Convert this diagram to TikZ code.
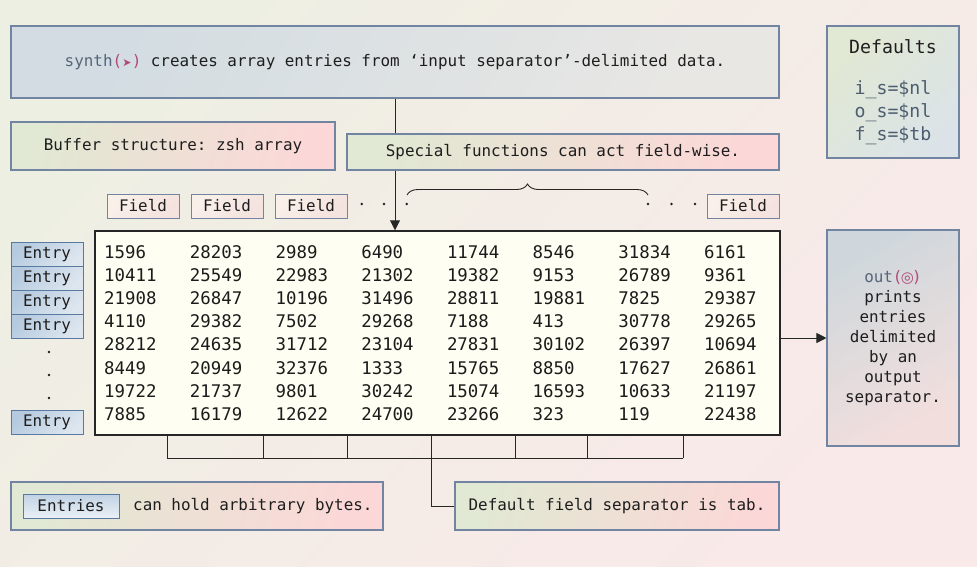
\documentclass[tikz,border=0pt]{standalone}
\usepackage{fontspec}
\setmonofont{DejaVu Sans Mono}
\newfontfamily\symfont{DejaVu Sans}
\usetikzlibrary{decorations.pathreplacing,arrows.meta}

\definecolor{bgA}{HTML}{EEEFE3}
\definecolor{bgB}{HTML}{F9E9E9}
\definecolor{ink}{HTML}{1E1E1E}
\definecolor{boxline}{HTML}{7185A3}
\definecolor{greenish}{HTML}{E1E8D3}
\definecolor{pinkish}{HTML}{FBD8D7}
\definecolor{steelA}{HTML}{D2DCE2}
\definecolor{steelB}{HTML}{E8E7E4}
\definecolor{entryA}{HTML}{B5CADF}
\definecolor{entryB}{HTML}{DDE6EF}
\definecolor{entryline}{HTML}{587AA2}
\definecolor{fieldA}{HTML}{FAF0EA}
\definecolor{fieldB}{HTML}{F4E2DE}
\definecolor{sheet}{HTML}{FEFEF2}
\definecolor{wire}{HTML}{262626}
\definecolor{fnname}{HTML}{56657A}
\definecolor{fnsym}{HTML}{B04A78}
\definecolor{defval}{HTML}{4B5D6E}

\newcommand{\monosz}{\ttfamily\fontsize{15.9}{20}\selectfont}

\tikzset{
  x=1pt, y=-1pt,
  box/.style={draw=boxline, line width=1.1pt, inner sep=0pt, text=ink,
    font=\monosz, align=center},
  warmbox/.style={box, shading=axis, top color=greenish, bottom color=pinkish,
    shading angle=70},
  steelbox/.style={box, shading=axis, top color=steelA, bottom color=steelB,
    shading angle=60},
  defbox/.style={box, shading=axis, top color=greenish, bottom color=steelA!80!white,
    shading angle=45},
  outbox/.style={box, shading=axis, top color=steelA!90!gray!90, bottom color=pinkish!55!steelB,
    shading angle=30},
  fieldbox/.style={draw=boxline, line width=0.9pt, inner sep=0pt, text=ink,
    font=\monosz, minimum width=72pt, minimum height=24pt,
    shading=axis, top color=fieldA, bottom color=fieldB, shading angle=45},
  entrybox/.style={draw=entryline, line width=0.9pt, inner sep=0pt, text=ink,
    font=\monosz, minimum width=72pt, minimum height=24pt,
    shading=axis, top color=entryA, bottom color=entryB, shading angle=45},
  num/.style={anchor=base west, inner sep=0pt, text=ink!90!black,
    font=\ttfamily\fontsize{17.4}{20}\selectfont},
  wireline/.style={draw=wire, line width=1pt},
  arrowline/.style={wireline, -{Triangle[length=10pt,width=10pt]}},
  dotmark/.style={fill=ink},
}

\newcommand{\fnpart}[2]{\textcolor{fnname}{#1}\textcolor{fnsym}{(#2)}}

\begin{document}
\begin{tikzpicture}
  % page background
  \shade[shading=axis, top color=bgA, bottom color=bgB, shading angle=45]
    (0,0) rectangle (977,566);
  \useasboundingbox (0,0) rectangle (977,566);

  % heading box
  \node[steelbox, minimum width=768pt, minimum height=72pt] (synth) at (395,62)
    {\fnpart{synth}{\makebox[9.6pt]{\raisebox{0.3pt}{\symfont\fontsize{11}{11}\selectfont ➤}}} creates array entries from ‘input separator’-delimited data.};

  % defaults panel
  \node[defbox, minimum width=132pt, minimum height=132pt,
    font=\ttfamily\fontsize{18.2}{23}\selectfont] (defaults) at (893,92)
    {Defaults\\[18pt]
     \textcolor{defval}{i\_s=\$nl}\\
     \textcolor{defval}{o\_s=\$nl}\\
     \textcolor{defval}{f\_s=\$tb}};

  % buffer note
  \node[warmbox, minimum width=324pt, minimum height=48pt] (buffer) at (173,146)
    {Buffer structure: zsh array};

  % the data sheet
  \node[draw=wire, line width=1.5pt, fill=sheet, minimum width=685pt,
    minimum height=204pt, inner sep=0pt] (tbl) at (437.5,333) {};

  % arrow from heading into the sheet (passes behind the special note)
  \draw[arrowline] (synth.south) -- (synth.south |- tbl.north);

  % special functions note
  \node[warmbox, minimum width=432pt, minimum height=36pt] (special) at (563,152)
    {Special functions can act field-wise.};

  % field labels
  \node[fieldbox] (f1) at (143,206) {Field};
  \node[fieldbox] (f2) at (227,206) {Field};
  \node[fieldbox] (f3) at (311,206) {Field};
  \node[fieldbox] (fn) at (743,206) {Field};

  % ellipses between field labels
  \foreach \dx in {361.7,384,406.7,648,671.5,695}
    \fill[dotmark] (\dx,204) circle (1.4pt);

  % brace over the elided fields
  \coordinate (braceL) at (407,195);
  \coordinate (braceR) at (648,195);
  \draw[wire, line width=0.9pt, decorate,
    decoration={brace, amplitude=11pt, aspect=0.5}] (braceL) -- (braceR);

  % entry labels
  \node[entrybox] (e1) at (47,254) {Entry};
  \node[entrybox] (e2) at (47,278) {Entry};
  \node[entrybox] (e3) at (47,302) {Entry};
  \node[entrybox] (e4) at (47,326) {Entry};
  \node[entrybox] (en) at (47,422) {Entry};
  \foreach \dy in {352,375,398}
    \fill[dotmark] (49,\dy) circle (1.4pt);

  % sheet contents
  \foreach \row [count=\r from 0] in {
      {1596,28203,2989,6490,11744,8546,31834,6161},
      {10411,25549,22983,21302,19382,9153,26789,9361},
      {21908,26847,10196,31496,28811,19881,7825,29387},
      {4110,29382,7502,29268,7188,413,30778,29265},
      {28212,24635,31712,23104,27831,30102,26397,10694},
      {8449,20949,32376,1333,15765,8850,17627,26861},
      {19722,21737,9801,30242,15074,16593,10633,21197},
      {7885,16179,12622,24700,23266,323,119,22438}} {
    \foreach \v [count=\c from 0] in \row
      \node[num] (n-\r-\c) at ({104+85.7*\c},{258.5+23.1*\r}) {\v};
  }

  % output panel
  \node[outbox, minimum width=132pt, minimum height=216pt,
    font=\ttfamily\fontsize{15.9}{20}\selectfont] (out) at (893,338)
    {\fnpart{out}{\makebox[9.6pt]{\symfont\fontsize{15}{15}\selectfont ◎}}\\prints\\entries\\delimited\\by an\\output\\separator.};
  \draw[arrowline] (out.west -| tbl.east) -- (out.west);

  % tab separators under the sheet
  \foreach \tx [count=\i] in {167,263,347,431,515,587,683}
    \coordinate (tab\i) at (\tx,458);
  \foreach \i in {1,...,7}
    \draw[wireline] (tab\i |- tbl.south) -- (tab\i);
  \draw[wireline] (tab1) -- (tab7);

  % entries note
  \node[warmbox, minimum width=372pt, minimum height=48pt] (bytes) at (197,506) {};
  \node[entrybox, minimum width=96pt, top color=entryA!85!white, bottom color=entryB!60!white] (entries) at (71,506) {Entries};
  \node[anchor=west, inner sep=0pt, text=ink, font=\monosz] (bytestext) at (133,506)
    {can hold arbitrary bytes.};

  % separator note
  \node[warmbox, minimum width=324pt, minimum height=48pt] (sep) at (617,506)
    {Default field separator is tab.};
  \draw[wireline] (tab4) |- (sep.west);
\end{tikzpicture}
\end{document}
